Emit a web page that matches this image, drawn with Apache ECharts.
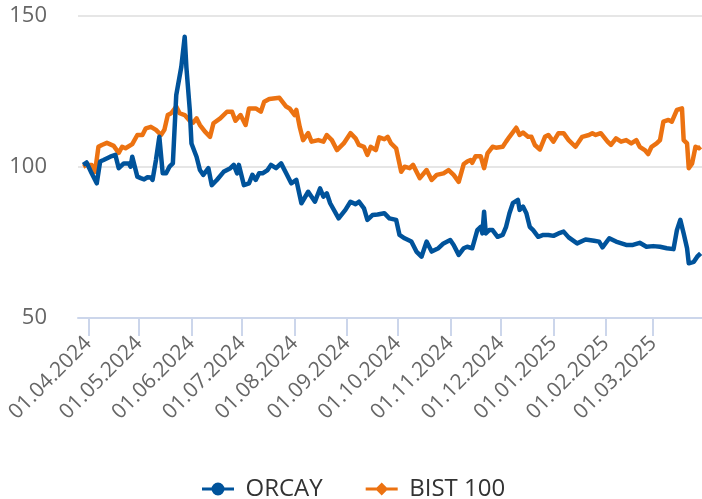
<!DOCTYPE html>
<html>
<head>
<meta charset="utf-8">
<script src="https://cdn.jsdelivr.net/npm/echarts@6/dist/echarts.min.js"></script>
<style>
html,body{margin:0;padding:0;background:#fff;}
#chart{width:702px;height:499px;}
</style>
</head>
<body>
<div id="chart"></div>
<script>
// ---- data ----
var seriesNames = ['ORCAY', 'BIST 100'];

var orcayDates = ['2024-03-29','2024-03-31','2024-04-01','2024-04-03','2024-04-06','2024-04-08','2024-04-10','2024-04-14','2024-04-17','2024-04-19','2024-04-22','2024-04-25','2024-04-26','2024-04-27','2024-04-30','2024-05-02','2024-05-04','2024-05-06','2024-05-08','2024-05-09','2024-05-11','2024-05-13','2024-05-15','2024-05-17','2024-05-19','2024-05-21','2024-05-23','2024-05-24','2024-05-26','2024-05-28','2024-05-29','2024-05-31','2024-06-01','2024-06-04','2024-06-06','2024-06-08','2024-06-11','2024-06-13','2024-06-16','2024-06-20','2024-06-24','2024-06-26','2024-06-28','2024-06-29','2024-07-02','2024-07-05','2024-07-07','2024-07-09','2024-07-11','2024-07-13','2024-07-16','2024-07-18','2024-07-21','2024-07-24','2024-07-27','2024-07-30','2024-08-02','2024-08-05','2024-08-09','2024-08-13','2024-08-16','2024-08-18','2024-08-20','2024-08-22','2024-08-27','2024-08-31','2024-09-03','2024-09-06','2024-09-08','2024-09-11','2024-09-13','2024-09-16','2024-09-19','2024-09-23','2024-09-26','2024-09-30','2024-10-02','2024-10-05','2024-10-09','2024-10-12','2024-10-15','2024-10-18','2024-10-21','2024-10-25','2024-10-28','2024-11-01','2024-11-03','2024-11-06','2024-11-09','2024-11-11','2024-11-14','2024-11-17','2024-11-19','2024-11-20','2024-11-21','2024-11-22','2024-11-24','2024-11-26','2024-11-29','2024-12-02','2024-12-04','2024-12-06','2024-12-08','2024-12-11','2024-12-12','2024-12-14','2024-12-16','2024-12-18','2024-12-20','2024-12-23','2024-12-26','2024-12-29','2025-01-01','2025-01-04','2025-01-07','2025-01-10','2025-01-15','2025-01-20','2025-01-25','2025-01-28','2025-01-30','2025-02-03','2025-02-07','2025-02-13','2025-02-17','2025-02-21','2025-02-25','2025-03-01','2025-03-05','2025-03-09','2025-03-13','2025-03-15','2025-03-17','2025-03-19','2025-03-21','2025-03-22','2025-03-25','2025-03-27','2025-03-29'];
var orcayValues = [100.7,101.5,101.2,97.9,94.6,101.8,102.3,103.4,104,99.6,101.2,101.2,100.1,103.4,96.8,96.3,95.9,96.6,96.5,95.7,102.3,110,97.9,97.9,100.1,101.2,123.8,123.3,133.2,143.1,133,118.9,107.8,103.4,99,97.4,99.6,94,95.7,98.4,99.6,100.7,97.9,100.7,94,94.6,97.4,95.7,97.9,97.9,99,100.7,99.6,101.2,97.9,94.6,95.7,88,91.8,88.5,92.9,90.2,91.3,88,83,85.8,88.5,87.7,88.5,86.3,82.5,84.1,84.3,84.7,83,82.5,77.5,76.4,75.3,72,70.3,75.3,72,73.1,74.7,75.8,74.2,70.9,73.1,73.6,73.1,79.1,80.2,78,85.2,78,79.1,79.1,76.9,77.5,80.2,84.7,88,89.1,85.8,86.9,84.7,80.2,79.1,76.9,77.5,77.5,77.2,78,78.6,76.7,74.7,76,75.6,75.3,73.4,76.4,75.3,74.2,74.2,74.9,73.6,73.8,73.6,73.1,72.8,79.1,82.5,78,73.1,68.1,68.6,70.3,71.4];

var bistDates = ['2024-03-29','2024-03-31','2024-04-03','2024-04-05','2024-04-07','2024-04-09','2024-04-12','2024-04-16','2024-04-19','2024-04-21','2024-04-23','2024-04-27','2024-04-30','2024-05-03','2024-05-05','2024-05-08','2024-05-11','2024-05-14','2024-05-16','2024-05-18','2024-05-20','2024-05-23','2024-05-25','2024-05-28','2024-05-31','2024-06-02','2024-06-04','2024-06-06','2024-06-09','2024-06-12','2024-06-14','2024-06-18','2024-06-22','2024-06-25','2024-06-27','2024-06-30','2024-07-03','2024-07-05','2024-07-09','2024-07-12','2024-07-14','2024-07-17','2024-07-23','2024-07-27','2024-07-29','2024-08-01','2024-08-02','2024-08-04','2024-08-06','2024-08-09','2024-08-11','2024-08-15','2024-08-18','2024-08-20','2024-08-23','2024-08-26','2024-08-30','2024-09-03','2024-09-06','2024-09-08','2024-09-11','2024-09-13','2024-09-15','2024-09-18','2024-09-20','2024-09-23','2024-09-25','2024-09-27','2024-09-30','2024-10-03','2024-10-05','2024-10-08','2024-10-10','2024-10-14','2024-10-18','2024-10-21','2024-10-24','2024-10-28','2024-10-31','2024-11-03','2024-11-06','2024-11-09','2024-11-11','2024-11-13','2024-11-14','2024-11-16','2024-11-19','2024-11-20','2024-11-21','2024-11-23','2024-11-26','2024-11-28','2024-12-02','2024-12-04','2024-12-06','2024-12-10','2024-12-12','2024-12-14','2024-12-17','2024-12-19','2024-12-21','2024-12-24','2024-12-27','2024-12-29','2025-01-01','2025-01-04','2025-01-07','2025-01-10','2025-01-14','2025-01-18','2025-01-22','2025-01-24','2025-01-26','2025-01-29','2025-02-02','2025-02-04','2025-02-07','2025-02-10','2025-02-13','2025-02-16','2025-02-19','2025-02-21','2025-02-24','2025-02-26','2025-02-28','2025-03-03','2025-03-05','2025-03-07','2025-03-10','2025-03-12','2025-03-15','2025-03-18','2025-03-19','2025-03-21','2025-03-22','2025-03-24','2025-03-26','2025-03-28','2025-03-29'];
var bistValues = [100.1,100.7,100.7,98.4,106.7,107.3,108,107,104.7,106.7,106.2,107.6,110.6,110.6,112.8,113.3,112.3,110.6,112.3,117.2,117.8,120,117.8,117.2,115.3,114.7,116.1,113.9,111.7,110,114.5,116.1,118.3,118.3,115.3,117.2,113.9,119.4,119.4,118.3,121.6,122.5,122.9,120,119.4,117.2,118.9,113.3,108.9,111.2,108.4,108.9,108.4,110.6,108.9,105.6,107.8,111.2,109.5,107.3,106.7,104,106.7,105.6,109.8,109.2,110,107.8,106.2,98.4,100.1,99.6,100.7,96.3,99,95.7,97.4,97.9,99,97.4,95.1,101,101.8,102.3,101.4,103.6,103.6,103.4,99.6,104.5,106.7,106.4,106.7,108.4,110,113,110.6,111.4,110,110,107.3,105.8,110,110.6,108.4,111.2,111.2,108.9,106.7,110,110.6,111.2,110.6,111.2,108.4,107.3,109.5,108.4,108.9,107.8,108.9,106.7,105.6,104.3,106.7,107.8,108.9,115,115.6,115,118.9,119.4,108.9,107.8,99.6,101.2,106.7,106.2,106.7];

var tickDates = ['2024-04-01','2024-05-01','2024-06-01','2024-07-01','2024-08-01','2024-09-01','2024-10-01','2024-11-01','2024-12-01','2025-01-01','2025-02-01','2025-03-01'];
var yTicks = [50, 100, 150];

// ---- chart ----
function ts(s){ var p = s.split('-'); return Date.UTC(+p[0], +p[1]-1, +p[2]); }
function pairs(d, v){ return d.map(function(x,i){ return [ts(x), v[i]]; }); }
function pad(n){ return (n<10?'0':'')+n; }
var tickTs = tickDates.map(ts);

var blue = '#00539b', orange = '#ec7211';
var font = 'Open Sans';
var circleIcon = 'path://M0,5 L32,5 L32,8 L0,8 Z M9.5,6.5 A6.5,6.5 0 1,1 22.5,6.5 A6.5,6.5 0 1,1 9.5,6.5 Z';
var diamondIcon = 'path://M0,5 L32,5 L32,8 L0,8 Z M16,0 L22.5,6.5 L16,13 L9.5,6.5 Z';

var chart = echarts.init(document.getElementById('chart'), null, {renderer:'canvas'});
chart.setOption({
  animation: false,
  color: [blue, orange],
  grid: {left: 78, right: 0, top: 16, bottom: 181, containLabel: false},
  xAxis: {
    type: 'value',
    min: Date.UTC(2024,2,25,22),
    max: Date.UTC(2025,2,29,20),
    axisLine: {show: true, lineStyle: {color: '#ccd6eb', width: 2}},
    axisTick: {show: true, customValues: tickTs, length: 18, lineStyle: {color: '#ccd6eb', width: 2}},
    axisLabel: {
      customValues: tickTs,
      rotate: 45,
      margin: 22,
      fontFamily: font,
      fontSize: 21,
      color: '#666',
      formatter: function(v){ var d = new Date(v); return pad(d.getUTCDate())+'.'+pad(d.getUTCMonth()+1)+'.'+d.getUTCFullYear(); }
    },
    splitLine: {show: false}
  },
  yAxis: {
    type: 'value',
    min: yTicks[0], max: yTicks[yTicks.length-1], interval: 50,
    axisLine: {show: false},
    axisTick: {show: false},
    axisLabel: {margin: 31, fontFamily: font, fontSize: 22, color: '#666'},
    splitLine: {lineStyle: {color: '#e6e6e6', width: 2}}
  },
  legend: {
    data: [
      {name: seriesNames[0], icon: circleIcon},
      {name: seriesNames[1], icon: diamondIcon}
    ],
    left: 197,
    top: 472,
    itemWidth: 33,
    itemHeight: 13,
    itemGap: 43,
    textStyle: {fontFamily: font, fontSize: 24, color: '#333', padding: [0,0,0,6]}
  },
  series: [
    {
      name: seriesNames[0], type: 'line', z: 3,
      data: pairs(orcayDates, orcayValues),
      showSymbol: false,
      lineStyle: {width: 4.5, color: blue, join: 'round'},
      itemStyle: {color: blue}
    },
    {
      name: seriesNames[1], type: 'line', z: 2,
      data: pairs(bistDates, bistValues),
      showSymbol: false,
      lineStyle: {width: 4.5, color: orange, join: 'round'},
      itemStyle: {color: orange}
    }
  ]
});
</script>
</body>
</html>
